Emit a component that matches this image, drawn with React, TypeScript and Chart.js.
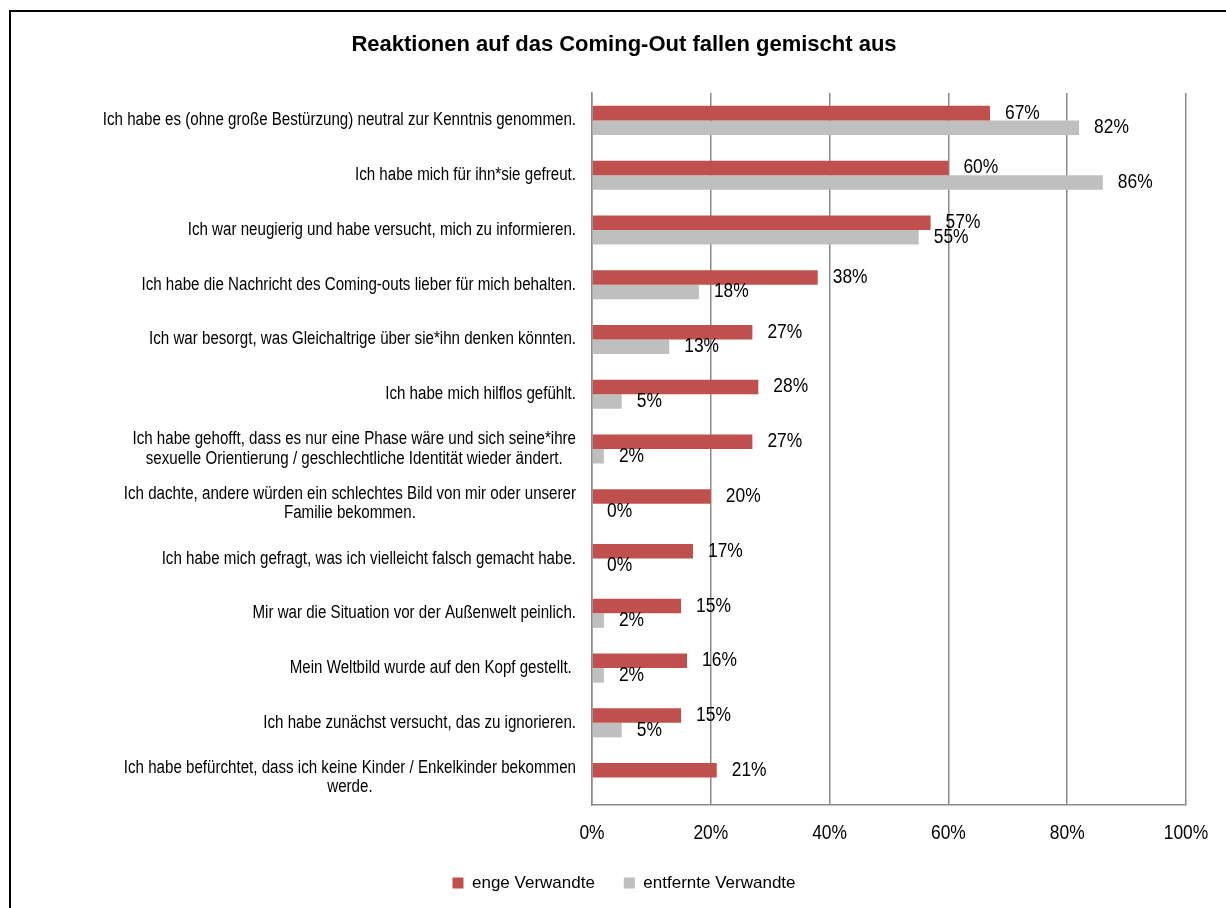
import React, { useEffect, useRef } from "react";
import { Chart, registerables } from "chart.js";

Chart.register(...registerables);

const titleText = "Reaktionen auf das Coming-Out fallen gemischt aus";

const categories: (string | string[])[] = [
  "Ich habe es (ohne große Bestürzung) neutral zur Kenntnis genommen.",
  "Ich habe mich für ihn*sie gefreut.",
  "Ich war neugierig und habe versucht, mich zu informieren.",
  "Ich habe die Nachricht des Coming-outs lieber für mich behalten.",
  "Ich war besorgt, was Gleichaltrige über sie*ihn denken könnten.",
  "Ich habe mich hilflos gefühlt.",
  [
    "Ich habe gehofft, dass es nur eine Phase wäre und sich seine*ihre",
    "sexuelle Orientierung / geschlechtliche Identität wieder ändert.",
  ],
  [
    "Ich dachte, andere würden ein schlechtes Bild von mir oder unserer",
    "Familie bekommen.",
  ],
  "Ich habe mich gefragt, was ich vielleicht falsch gemacht habe.",
  "Mir war die Situation vor der Außenwelt peinlich.",
  "Mein Weltbild wurde auf den Kopf gestellt. ",
  "Ich habe zunächst versucht, das zu ignorieren.",
  [
    "Ich habe befürchtet, dass ich keine Kinder / Enkelkinder bekommen",
    "werde.",
  ],
];

const engeVerwandte: (number | null)[] = [67, 60, 57, 38, 27, 28, 27, 20, 17, 15, 16, 15, 21];
const entfernteVerwandte: (number | null)[] = [82, 86, 55, 18, 13, 5, 2, 0, 0, 2, 2, 5, null];

const seriesNames = ["enge Verwandte", "entfernte Verwandte"];
const seriesColors = ["#C0504D", "#BFBFBF"];

const xMin = 0;
const xMax = 100;
const xStep = 20;

const FAMILY = "'Liberation Sans', Arial, sans-serif";

function drawCondensed(
  ctx: CanvasRenderingContext2D,
  text: string,
  x: number,
  y: number,
  sx: number,
  align: "left" | "center" | "right"
) {
  ctx.save();
  ctx.translate(x, y);
  ctx.scale(sx, 1);
  ctx.textAlign = align;
  ctx.fillText(text, 0, 0);
  ctx.restore();
}

export default function App() {
  const ref = useRef<HTMLCanvasElement | null>(null);

  useEffect(() => {
    if (!ref.current) return;
    const catFont = `18px ${FAMILY}`;
    const catScale = 0.84;
    const valFont = `20px ${FAMILY}`;
    const valScale = 0.87;
    const gridColor = "#8a8a8a";

    const textPlugin = {
      id: "customTexts",
      afterDatasetsDraw(chart: any) {
        const ctx = chart.ctx as CanvasRenderingContext2D;
        ctx.save();
        ctx.fillStyle = "#000";
        ctx.textBaseline = "middle";

        // category labels (right aligned block, lines centred in block)
        ctx.font = catFont;
        const yScale = chart.scales.y;
        const right = chart.chartArea.left - 16;
        const lineH = 19.5;
        categories.forEach((lab, i) => {
          const lines = Array.isArray(lab) ? lab : [lab];
          const y = yScale.getPixelForTick(i);
          let maxW = 0;
          lines.forEach((l) => {
            maxW = Math.max(maxW, ctx.measureText(l).width * catScale);
          });
          const cx = right - maxW / 2;
          const y0 = y - ((lines.length - 1) * lineH) / 2;
          lines.forEach((l, k) => drawCondensed(ctx, l, cx, y0 + k * lineH, catScale, "center"));
        });

        // x tick labels
        ctx.font = valFont;
        const xScale = chart.scales.x;
        xScale.ticks.forEach((t: any) => {
          const x = xScale.getPixelForValue(t.value);
          drawCondensed(ctx, `${t.value}%`, x, chart.chartArea.bottom + 28, valScale, "center");
        });

        // value labels
        chart.data.datasets.forEach((ds: any, di: number) => {
          const meta = chart.getDatasetMeta(di);
          meta.data.forEach((el: any, i: number) => {
            const v = ds.data[i];
            if (v === null || v === undefined) return;
            drawCondensed(ctx, `${v}%`, el.x + 15, el.y, valScale, "left");
          });
        });
        ctx.restore();
      },
    };

    const chart = new Chart(ref.current, {
      type: "bar",
      data: {
        labels: categories.map((c) => (Array.isArray(c) ? c.join(" ") : c)),
        datasets: [
          {
            label: seriesNames[0],
            data: engeVerwandte,
            backgroundColor: seriesColors[0],
            borderWidth: 0,
            categoryPercentage: 0.53,
            barPercentage: 1,
          },
          {
            label: seriesNames[1],
            data: entfernteVerwandte,
            backgroundColor: seriesColors[1],
            borderWidth: 0,
            categoryPercentage: 0.53,
            barPercentage: 1,
          },
        ],
      },
      options: {
        indexAxis: "y",
        responsive: false,
        animation: false,
        layout: { padding: { top: 20, left: 62, right: 40, bottom: 6.5 } },
        plugins: {
          title: {
            display: true,
            text: titleText,
            color: "#000",
            font: { family: FAMILY, size: 22, weight: "bold" },
            padding: { top: 12, bottom: 34.6 },
          },
          legend: {
            position: "bottom",
            labels: {
              boxWidth: 11,
              boxHeight: 11,
              padding: 29,
              color: "#000",
              font: { family: FAMILY, size: 17 },
            },
          },
          tooltip: { enabled: false },
        },
        scales: {
          x: {
            type: "linear",
            min: xMin,
            max: xMax,
            ticks: {
              stepSize: xStep,
              display: false,
            },
            grid: { color: gridColor, lineWidth: 1.5, drawTicks: false },
            border: { display: true, color: gridColor, width: 1.5 },
            afterFit: (scale: any) => {
              scale.height = 40.5;
            },
          },
          y: {
            type: "category",
            ticks: { display: false },
            grid: { display: false, drawTicks: false },
            border: { display: true, color: gridColor, width: 1.5 },
            afterFit: (scale: any) => {
              scale.width = 530;
            },
          },
        },
      } as any,
      plugins: [textPlugin],
    });

    return () => chart.destroy();
  }, []);

  return (
    <div
      style={{
        position: "fixed",
        left: 0,
        top: 0,
        width: 1226,
        height: 908,
        overflow: "hidden",
        background: "#fff",
      }}
    >
      <div
        style={{
          position: "absolute",
          left: 9,
          top: 10,
          width: 1400,
          height: 1200,
          border: "2px solid #000",
          boxSizing: "border-box",
        }}
      />
      <canvas
        ref={ref}
        width={1226}
        height={908}
        style={{ position: "absolute", left: 0, top: 0, width: 1226, height: 908 }}
      />
    </div>
  );
}
